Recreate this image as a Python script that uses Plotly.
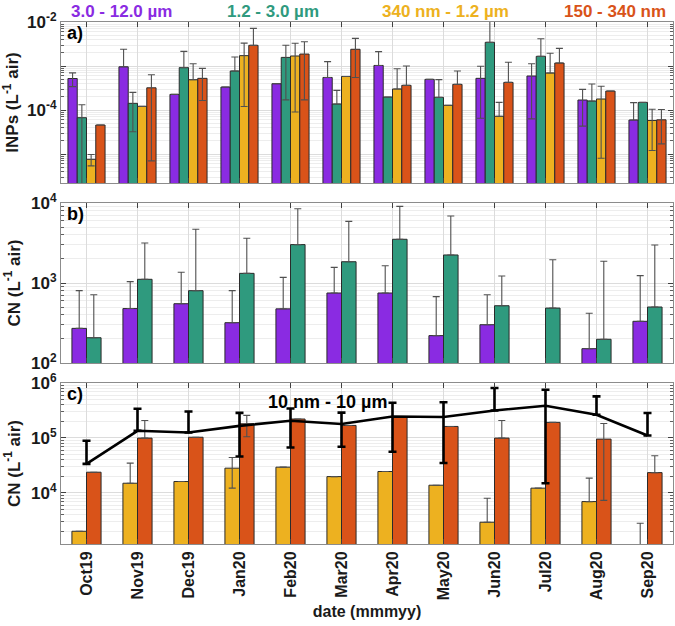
import plotly.graph_objects as go
import math

months = ["Oct19", "Nov19", "Dec19", "Jan20", "Feb20", "Mar20", "Apr20", "May20",
          "Jun20", "Jul20", "Aug20", "Sep20"]
xpos = list(range(1, 13))

# Panel a: INP concentrations (L-1 air) per size range
inp_3_12 = [5.2e-4, 9.6e-4, 2.27e-4, 3.33e-4, 3.96e-4, 5.5e-4, 1.03e-3, 4.98e-4, 5.25e-4, 5.93e-4, 1.69e-4, 5.93e-5]
inp_3_12_err = [1.8e-4, 1.44e-3, None, None, None, 7.1e-4, 1.09e-3, None, 4.6e-4, 5.3e-4, 1.26e-4, 8.8e-5]
inp_1_3 = [6.7e-5, 1.42e-4, 9.2e-4, 7.7e-4, 1.57e-3, 1.37e-4, 1.97e-4, 1.94e-4, 3.45e-3, 1.66e-3, 1.6e-4, 1.49e-4]
inp_1_3_err = [6.5e-5, 1.1e-4, 1.23e-3, 8.3e-4, 1.4e-3, 1.43e-4, None, 2.96e-4, 7e-3, 2.5e-3, 2.3e-4, None]
inp_340_1200 = [7.6e-6, 1.21e-4, 4.9e-4, 1.72e-3, 1.69e-3, 5.8e-4, 3.0e-4, 1.28e-4, 7.2e-5, 6.93e-4, 1.78e-4, 5.8e-5]
inp_340_1200_err = [2.2e-6, None, 6.4e-4, 1.6e-3, 1.6e-3, None, 5.7e-4, None, 7.7e-5, 1.25e-3, 1.7e-4, 4.6e-5]
inp_150_340 = [4.57e-5, 3.2e-4, 5.25e-4, 2.95e-3, 1.87e-3, 2.4e-3, 3.64e-4, 3.83e-4, 4.25e-4, 1.17e-3, 2.7e-4, 6.0e-5]
inp_150_340_err = [None, 3.13e-4, 3.6e-4, 4.2e-3, 1.7e-3, 1.85e-3, 6.4e-4, 3.9e-4, 7.9e-4, 1.35e-3, None, 4.3e-5]

# Panel b: CN (L-1 air), coarse sizes
cn_3_12 = [271, 479, 551, 319, 475, 750, 750, 220, 301, None, 151, 332]
cn_3_12_err = [531, 560, 810, 483, 700, 820, 895, 455, 413, None, 267, 904]
cn_1_3 = [207, 1112, 802, 1320, 3020, 1845, 3520, 2240, 520, 486, 198, 501]
cn_1_3_err = [507, 2050, 3890, 2300, 5470, 4050, 5560, 4630, 702, 1470, 1670, 2484]

# Panel c: CN (L-1 air), fine sizes and total 10 nm - 10 um
cn_340_1200 = [2005, 1.5e4, 1.61e4, 2.82e4, 2.94e4, 1.98e4, 2.45e4, 1.38e4, 2925, 1.22e4, 6950, 1000]
cn_340_1200_err = [None, 1.98e4, None, 1.6e4, None, None, None, None, 5075, None, 1.16e4, 1800]
cn_150_340 = [2.38e4, 9.93e4, 1.03e5, 1.81e5, 2.21e5, 1.69e5, 2.4e5, 1.62e5, 9.94e4, 1.92e5, 9.53e4, 2.34e4]
cn_150_340_err = [None, 1.09e5, None, 7.6e4, None, None, None, None, 1.09e5, None, 8.8e4, 2.4e4]
cn_total = [3.38e4, 1.35e5, 1.26e5, 1.66e5, 2.05e5, 1.79e5, 2.46e5, 2.4e5, 3.16e5, 3.85e5, 2.64e5, 1.11e5]
cn_total_err = [5.5e4, 2.05e5, 1.77e5, 1.2e5, 1.38e5, 1.1e5, 1.9e5, 2.05e5, 4.95e5, 3.7e5, 3.06e5, 1.73e5]

labels = ["3.0 - 12.0 µm", "1.2 - 3.0 µm", "340 nm - 1.2 µm", "150 - 340 nm"]
colors = ["#8a2be2", "#2f9a7e", "#edb120", "#d95319"]

FONT = "Liberation Sans, Arial, sans-serif"

FIG_W, FIG_H = 675, 626
PL, PR, PT, PB = 61, 673, 22, 544          # plot area in pixels
PW, PH = PR - PL, PB - PT

fig = go.Figure()

W4 = 4 / 5.5 / 4
W2 = 2 / 3.5 / 2


def lower(vals, errs):
    # symmetric errors; a lower whisker that would cross zero is not drawn on a log axis
    out = []
    for v, e in zip(vals, errs):
        if v is None or e is None:
            out.append(None)
        else:
            out.append(e if v - e > 0 else 0)
    return out


def add_bar(y, err, color, off, w, xa, ya):
    fig.add_trace(go.Bar(
        x=xpos, y=y, width=w, offset=off,
        marker=dict(color=color, line=dict(color="#2b2b2b", width=1)),
        error_y=dict(type="data", array=err, arrayminus=lower(y, err), symmetric=False,
                     color="#505050", thickness=1.1, width=3.5, visible=True),
        xaxis=xa, yaxis=ya, showlegend=False, hoverinfo="skip"))


# panel a
for i, (y, e) in enumerate([(inp_3_12, inp_3_12_err), (inp_1_3, inp_1_3_err),
                            (inp_340_1200, inp_340_1200_err), (inp_150_340, inp_150_340_err)]):
    add_bar(y, e, colors[i], -2 * W4 + i * W4, W4, "x", "y")
# panel b
add_bar(cn_3_12, cn_3_12_err, colors[0], -W2, W2, "x2", "y2")
add_bar(cn_1_3, cn_1_3_err, colors[1], 0, W2, "x2", "y2")
# panel c
add_bar(cn_340_1200, cn_340_1200_err, colors[2], -W2, W2, "x3", "y3")
add_bar(cn_150_340, cn_150_340_err, colors[3], 0, W2, "x3", "y3")
fig.add_trace(go.Scatter(
    x=xpos, y=cn_total, mode="lines", line=dict(color="black", width=2.6),
    error_y=dict(type="data", array=cn_total_err, arrayminus=lower(cn_total, cn_total_err),
                 symmetric=False, color="black", thickness=2.6, width=4, visible=True),
    xaxis="x3", yaxis="y3", showlegend=False, hoverinfo="skip"))

grid = "#dcdcdc"
minor_grid = "#ededed"
frame = "#8c8c8c"


def minor_vals(lo, hi):
    return [m * 10 ** d for d in range(lo, hi) for m in range(2, 10)]


def xaxis(anchor, show):
    return dict(domain=[0, 1], anchor=anchor, range=[0.5, 12.5], tickmode="array",
                tickvals=xpos, ticktext=months, showticklabels=show, tickangle=-90,
                ticks="inside", ticklen=5, tickcolor="#404040", showline=True,
                linecolor=frame, linewidth=1, mirror="ticks", showgrid=True,
                gridcolor=grid, gridwidth=1, zeroline=False,
                tickfont=dict(family=FONT, size=16, color="#1a1a1a", weight="bold"))


def yaxis(anchor, dom, rng, tv, tt, lo, hi, title):
    return dict(domain=dom, anchor=anchor, type="log", range=rng, tickmode="array",
                tickvals=tv, ticktext=tt, ticks="inside", ticklen=5, tickcolor="#404040",
                showline=True, linecolor=frame, linewidth=1, mirror="ticks",
                showgrid=True, gridcolor=grid, gridwidth=1, zeroline=False,
                minor=dict(tickmode="array", tickvals=minor_vals(lo, hi), ticks="inside",
                           ticklen=3, tickcolor="#606060", showgrid=True,
                           gridcolor=minor_grid, gridwidth=1),
                tickfont=dict(family=FONT, size=17, color="#1a1a1a", weight="bold"),
                title=dict(text=title, standoff=6,
                           font=dict(family=FONT, size=17, color="#1a1a1a", weight="bold")))


def ydom(top, bottom):
    return [(PB - bottom) / PH, (PB - top) / PH]


fig.update_layout(
    width=FIG_W, height=FIG_H,
    margin=dict(l=PL, r=FIG_W - PR, t=PT, b=FIG_H - PB, autoexpand=False),
    paper_bgcolor="white", plot_bgcolor="white",
    barmode="overlay",
    xaxis=xaxis("y", False),
    xaxis2=xaxis("y2", False),
    xaxis3=xaxis("y3", True),
    yaxis=yaxis("x", ydom(22, 183), [math.log10(2.2e-6), -2],
                [1e-5, 1e-4, 1e-3, 1e-2], ["", "10<sup>-4</sup>", "", "10<sup>-2</sup>"],
                -6, -2, "INPs (L<sup>-1</sup> air)"),
    yaxis2=yaxis("x2", ydom(203, 363), [2, 4],
                 [1e2, 1e3, 1e4], ["10<sup>2</sup>", "10<sup>3</sup>", "10<sup>4</sup>"],
                 2, 4, "CN (L<sup>-1</sup> air)"),
    yaxis3=yaxis("x3", ydom(383, 544), [3.07, 6],
                 [1e4, 1e5, 1e6], ["10<sup>4</sup>", "10<sup>5</sup>", "10<sup>6</sup>"],
                 3, 6, "CN (L<sup>-1</sup> air)"),
)
fig.layout.xaxis3.title = dict(text="date (mmmyy)", standoff=6,
                               font=dict(family=FONT, size=16, color="#1a1a1a", weight="bold"))

ann_font = dict(family=FONT, size=18, color="black", weight="bold")
for t, yr in [("a)", "y domain"), ("b)", "y2 domain"), ("c)", "y3 domain")]:
    fig.add_annotation(text=t, xref="paper", yref=yr, x=0.006, y=0.93, xanchor="left",
                       yanchor="middle", showarrow=False, font=ann_font)
fig.add_annotation(text="10 nm - 10 µm", xref="paper", yref="y3 domain",
                   x=(327 - PL) / PW, y=(544 - 402) / 161, xanchor="center",
                   yanchor="middle", showarrow=False, font=ann_font)

centers = [121, 273, 445, 615]
for lab, c, col in zip(labels, centers, colors):
    fig.add_annotation(text=lab, xref="paper", yref="paper", x=(c - PL) / PW,
                       y=1 + 11 / PH, xanchor="center", yanchor="middle", showarrow=False,
                       font=dict(family=FONT, size=17, color=col, weight="bold"))

# remove the default 8px page margin so the figure fills the window exactly
fig.write_html("out.html", config={"displayModeBar": False},
               post_script="document.body.style.margin='0';")
